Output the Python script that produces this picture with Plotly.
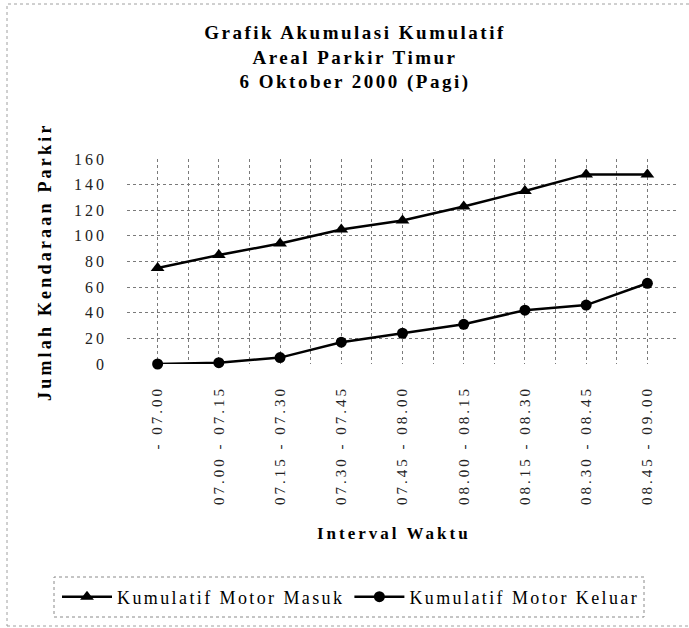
import plotly.graph_objects as go

# Interval waktu (pagi) dan kumulatif kendaraan motor
intervals = ["- 07.00", "07.00 - 07.15", "07.15 - 07.30", "07.30 - 07.45",
             "07.45 - 08.00", "08.00 - 08.15", "08.15 - 08.30", "08.30 - 08.45",
             "08.45 - 09.00"]
motor_masuk = [75, 85, 94, 105, 112, 123, 135, 148, 148]
motor_keluar = [0, 1, 5, 17, 24, 31, 42, 46, 63]
y_ticks = [0, 20, 40, 60, 80, 100, 120, 140, 160]

SERIF = "Liberation Serif, Times New Roman, serif"


def spaced(text, px):
    return f'<span style="letter-spacing:{px}px">{text}</span>'


x_idx = list(range(len(intervals)))

fig = go.Figure()
fig.add_trace(go.Scatter(
    x=x_idx, y=motor_masuk, mode="lines+markers",
    name=spaced("Kumulatif Motor Masuk", 2.4),
    line=dict(color="black", width=2.5),
    marker=dict(symbol="triangle-up", size=12, color="black"),
    cliponaxis=False,
))
fig.add_trace(go.Scatter(
    x=x_idx, y=motor_keluar, mode="lines+markers",
    name=spaced("Kumulatif Motor Keluar", 2.4),
    line=dict(color="black", width=2.5),
    marker=dict(symbol="circle", size=11, color="black"),
    cliponaxis=False,
))

grid = dict(gridcolor="#7a7a7a", gridwidth=1, griddash="3px,3px")

fig.update_layout(
    width=689, height=628,
    margin=dict(l=127, r=11, t=159, b=264, autoexpand=False),
    paper_bgcolor="white", plot_bgcolor="white",
    font=dict(family=SERIF, color="black", size=15),
    showlegend=True,
    title=dict(
        text="<br>".join(spaced(f"<b>{t}</b>", 2.5) for t in [
            "Grafik Akumulasi Kumulatif", "Areal Parkir Timur",
            "6 Oktober 2000 (Pagi)"]),
        x=355 / 689, xref="container", xanchor="center",
        y=1 - 39 / 628, yref="container", yanchor="top",
        font=dict(family=SERIF, size=19, color="black"),
    ),
    legend=dict(
        orientation="h", xref="paper", x=(57 - 127) / 551, xanchor="left",
        yref="paper", y=(364 - 597) / 205, yanchor="middle",
        font=dict(family=SERIF, size=18, color="black"),
        bgcolor="rgba(0,0,0,0)", borderwidth=0, itemwidth=50,
    ),
    xaxis=dict(
        range=[-0.5, len(intervals) - 0.5],
        tickvals=x_idx, ticktext=[spaced(t, 3.0) for t in intervals],
        tickangle=-90, ticks="", showline=False, zeroline=False,
        ticklabelstandoff=18,
        tickfont=dict(family=SERIF, size=15, color="#222"),
        showgrid=True, **grid,
        minor=dict(tick0=-0.5, dtick=1, showgrid=True, **grid),
    ),
    yaxis=dict(
        range=[0, 160], tickvals=y_ticks,
        ticktext=[spaced(str(v), 3.0) for v in y_ticks],
        ticks="", showline=False, zeroline=False,
        ticklabelstandoff=19,
        tickfont=dict(family=SERIF, size=16, color="#222"),
        showgrid=True, **grid,
    ),
    annotations=[
        dict(text=spaced("<b>Jumlah Kendaraan Parkir</b>", 3.2),
             xref="paper", yref="paper", x=(45 - 127) / 551,
             y=(364 - 262) / 205,
             textangle=-90, showarrow=False, xanchor="center", yanchor="middle",
             font=dict(family=SERIF, size=18, color="black")),
        dict(text=spaced("<b>Interval Waktu</b>", 3.0),
             xref="paper", yref="paper", x=(394 - 127) / 551,
             y=(364 - 533) / 205, showarrow=False,
             xanchor="center", yanchor="middle",
             font=dict(family=SERIF, size=17, color="black")),
    ],
    shapes=[
        # kotak legenda
        dict(type="rect", xref="paper", yref="paper",
             x0=(54 - 127) / 551, x1=(644 - 127) / 551,
             y0=(364 - 617) / 205, y1=(364 - 577) / 205,
             line=dict(color="#8a8a8a", width=1, dash="dot")),
        # bingkai luar grafik
        dict(type="rect", xref="paper", yref="paper",
             x0=(7 - 127) / 551, x1=(700 - 127) / 551,
             y0=(364 - 626) / 205, y1=(364 - 4) / 205,
             line=dict(color="#a0a0a0", width=1, dash="dot")),
    ],
)

fig.write_html("out.html")
